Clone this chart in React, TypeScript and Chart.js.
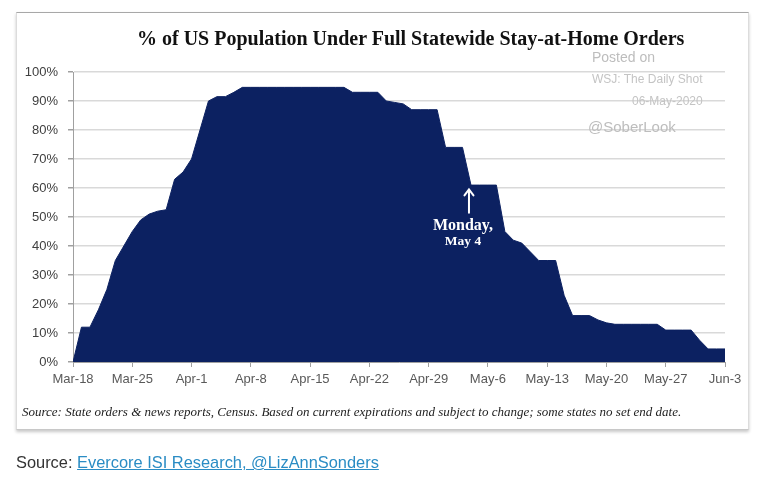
import React, { useEffect, useRef } from "react";
import { Chart, registerables } from "chart.js";

Chart.register(...registerables);

// ---- data (one value per day, Mar-18 .. Jun-3, 2020) ----
const xTickLabels = [
  "Mar-18", "Mar-25", "Apr-1", "Apr-8", "Apr-15", "Apr-22",
  "Apr-29", "May-6", "May-13", "May-20", "May-27", "Jun-3",
];
const populationSharePct = [
  0, 12, 12, 18, 25, 35, 40, 45, 49, 51,
  52, 52.5, 63, 65.5, 70, 80, 90, 91.5, 91.5, 93,
  94.7, 94.7, 94.7, 94.7, 94.7, 94.7, 94.7, 94.7, 94.7, 94.7,
  94.7, 94.7, 94.7, 93, 93, 93, 93, 90, 89.5, 89,
  87, 87, 87, 87, 74, 74, 74, 61, 61, 61,
  61, 45, 42, 41, 38, 35, 35, 35, 23, 16,
  16, 16, 14.5, 13.5, 13, 13, 13, 13, 13, 13,
  11, 11, 11, 11, 7.5, 4.5, 4.5, 4.5,
];
const yTickSuffix = "%";
const annotationDayIndex = 47; // Monday, May 4
const annotationLines = ["Monday,", "May 4"];

const TITLE = "% of US Population Under Full Statewide Stay-at-Home Orders";
const FOOTNOTE =
  "Source: State orders & news reports, Census. Based on current expirations and subject to change; some states no set end date.";

const NAVY = "#0c2161";

const annotationPlugin = {
  id: "mondayAnnotation",
  afterDatasetsDraw(chart: any) {
    const { ctx, scales } = chart;
    const xs = scales.x;
    const ys = scales.y;
    const x = xs.getPixelForValue(annotationDayIndex) - 2;
    const yTop = ys.getPixelForValue(59.5);
    const yBot = ys.getPixelForValue(51.5);
    ctx.save();
    ctx.strokeStyle = "#ffffff";
    ctx.lineWidth = 2;
    ctx.lineCap = "round";
    ctx.beginPath();
    ctx.moveTo(x, yBot);
    ctx.lineTo(x, yTop);
    ctx.moveTo(x - 4.5, yTop + 6);
    ctx.lineTo(x, yTop);
    ctx.lineTo(x + 4.5, yTop + 6);
    ctx.stroke();
    ctx.fillStyle = "#ffffff";
    ctx.textAlign = "center";
    ctx.textBaseline = "middle";
    ctx.font = "bold 16px 'Liberation Serif', 'DejaVu Serif', serif";
    ctx.fillText(annotationLines[0], x - 6, ys.getPixelForValue(47));
    ctx.font = "bold 13.5px 'Liberation Serif', 'DejaVu Serif', serif";
    ctx.fillText(annotationLines[1], x - 6, ys.getPixelForValue(41.5));
    ctx.restore();
  },
};

export default function App() {
  const canvasRef = useRef<HTMLCanvasElement | null>(null);

  useEffect(() => {
    if (!canvasRef.current) return;
    const points = populationSharePct.map((v, i) => ({ x: i, y: v }));
    const chart = new Chart(canvasRef.current, {
      type: "line",
      data: {
        datasets: [
          {
            data: points,
            fill: "origin",
            backgroundColor: NAVY,
            borderColor: NAVY,
            borderWidth: 1,
            pointRadius: 0,
            tension: 0,
          },
        ],
      },
      options: {
        animation: false,
        responsive: false,
        maintainAspectRatio: false,
        layout: { padding: { left: 13, right: 34, top: 72, bottom: 92 } },
        plugins: {
          legend: { display: false },
          tooltip: { enabled: false },
          title: { display: false },
        },
        scales: {
          x: {
            type: "linear",
            min: 0,
            max: populationSharePct.length - 1,
            afterFit: (s: any) => {
              s.height = 30;
            },
            grid: {
              display: true,
              drawOnChartArea: false,
              drawTicks: true,
              tickLength: 5,
              tickColor: "#a0a0a0",
              color: "#a0a0a0",
            },
            border: { display: true, color: "#a0a0a0", width: 1 },
            ticks: {
              stepSize: 7,
              autoSkip: false,
              maxRotation: 0,
              padding: 5,
              color: "#595959",
              font: { family: "'Liberation Sans', Arial, sans-serif", size: 13 },
              callback: (v: any) => {
                const idx = Math.round(Number(v) / 7);
                return xTickLabels[idx] ?? "";
              },
            },
          },
          y: {
            min: 0,
            max: 100,
            afterFit: (s: any) => {
              s.width = 60;
            },
            grid: {
              color: "#d9d9d9",
              lineWidth: 1.5,
              drawTicks: true,
              tickLength: 5,
              tickColor: "#a0a0a0",
            },
            border: { display: true, color: "#a0a0a0", width: 1 },
            ticks: {
              stepSize: 10,
              padding: 10,
              color: "#404040",
              font: { family: "'Liberation Sans', Arial, sans-serif", size: 13 },
              callback: (v: any) => `${v}${yTickSuffix}`,
            },
          },
        },
      },
      plugins: [annotationPlugin],
    });
    return () => chart.destroy();
  }, []);

  const abs = (style: React.CSSProperties): React.CSSProperties => ({
    position: "absolute",
    whiteSpace: "nowrap",
    margin: 0,
    ...style,
  });

  return (
    <div style={{ position: "absolute", left: 0, top: 0, width: 759, height: 484, background: "#ffffff", overflow: "hidden" }}>
      <div
        style={abs({
          left: 16,
          top: 12,
          width: 731,
          height: 416,
          background: "#ffffff",
          borderTop: "1px solid #a8a8a8",
          borderLeft: "1px solid #dcdcdc",
          borderRight: "1px solid #dcdcdc",
          borderBottom: "1px solid #c8c8c8",
          boxShadow: "0 2px 3px rgba(0,0,0,0.22)",
        })}
      />
      <canvas ref={canvasRef} width={759} height={484} style={abs({ left: 0, top: 0, width: 759, height: 484 })} />
      <div
        style={abs({
          left: 137,
          top: 26,
          font: "bold 20px 'Liberation Serif', 'Times New Roman', serif",
          lineHeight: "24px",
          color: "#111111",
        })}
      >
        {TITLE}
      </div>
      <div style={abs({ left: 592, top: 49, font: "14px 'Liberation Sans', Arial, sans-serif", lineHeight: "16px", color: "#bdbdbd" })}>
        Posted on
      </div>
      <div style={abs({ left: 592, top: 72, font: "12px 'Liberation Sans', Arial, sans-serif", lineHeight: "14px", color: "#c4c4c4" })}>
        WSJ: The Daily Shot
      </div>
      <div style={abs({ left: 632, top: 94, font: "12px 'Liberation Sans', Arial, sans-serif", lineHeight: "14px", color: "#c4c4c4" })}>
        06-May-2020
      </div>
      <div style={abs({ left: 588, top: 118, font: "15px 'Liberation Sans', Arial, sans-serif", lineHeight: "18px", color: "#bdbdbd" })}>
        @SoberLook
      </div>
      <div
        style={abs({
          left: 22,
          top: 404,
          font: "italic 13px 'Liberation Serif', 'Times New Roman', serif",
          lineHeight: "16px",
          color: "#222222",
        })}
      >
        {FOOTNOTE}
      </div>
      <div style={abs({ left: 16, top: 453, font: "16.4px 'Liberation Sans', Arial, sans-serif", lineHeight: "19px", color: "#333333" })}>
        Source:{" "}
        <span style={{ color: "#2a8cc4", textDecoration: "underline" }}>Evercore ISI Research, @LizAnnSonders</span>
      </div>
    </div>
  );
}
